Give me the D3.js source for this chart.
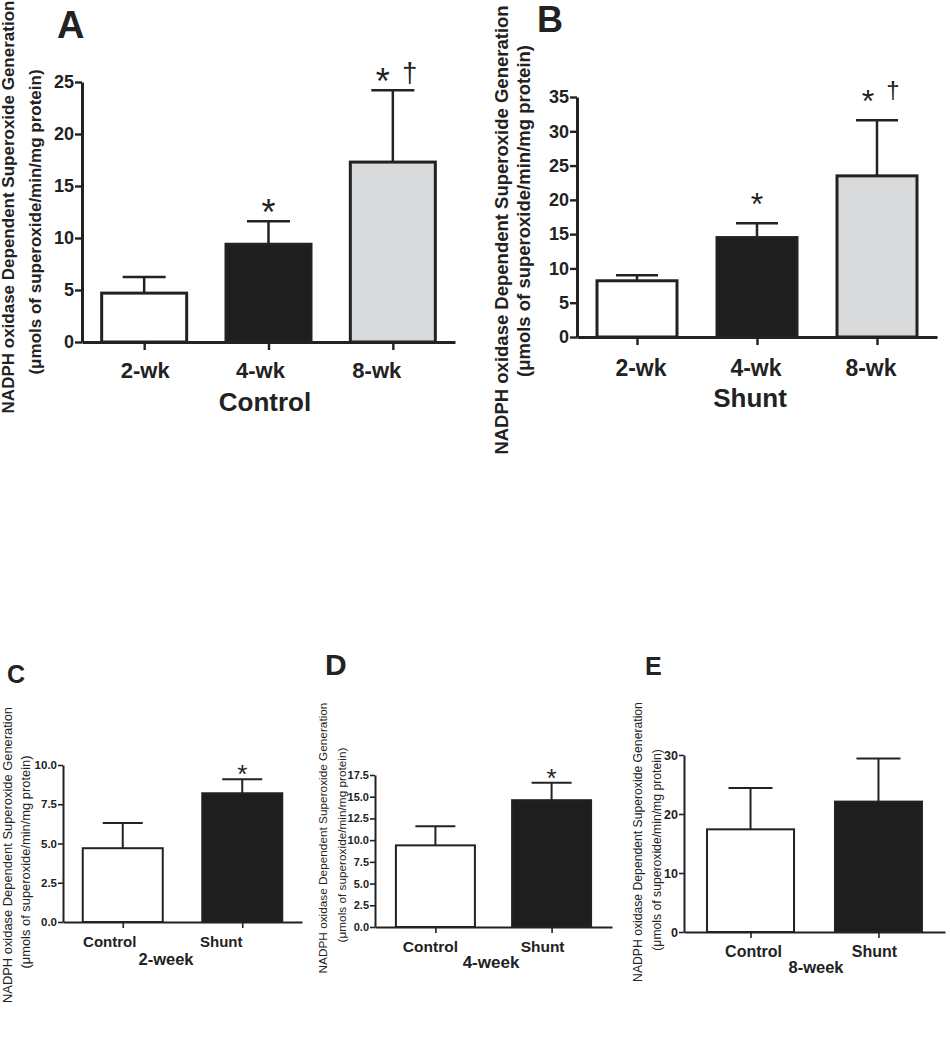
<!DOCTYPE html>
<html><head><meta charset="utf-8">
<script src="https://cdn.jsdelivr.net/npm/d3@7"></script>
<style>
body{margin:0;background:#fff}
svg{display:block}
text{font-family:"Liberation Sans",Arial,Helvetica,sans-serif;fill:#222}
</style>
</head><body>
<svg id="chart" width="950" height="1050"></svg>
<script>
// ---------- data ----------
const yLabelLine1 = "NADPH oxidase Dependent Superoxide Generation";
const yLabelLine2 = "(\u03BCmols of superoxide/min/mg protein)";

const weekCategories = ["2-wk", "4-wk", "8-wk"];
const groupCategories = ["Control", "Shunt"];

const controlMeans  = [4.7, 9.4, 17.3];
const controlErrTop = [6.25, 11.6, 24.2];
const shuntMeans    = [8.2, 14.5, 23.5];
const shuntErrTop   = [9.0, 16.6, 31.6];

const week2Means  = [4.7, 8.2];
const week2ErrTop = [6.3, 9.1];
const week4Means  = [9.4, 14.6];
const week4ErrTop = [11.6, 16.6];
const week8Means  = [17.4, 22.1];
const week8ErrTop = [24.4, 29.4];

const ticksA = [0, 5, 10, 15, 20, 25];
const ticksB = [0, 5, 10, 15, 20, 25, 30, 35];
const ticksC = [0, 2.5, 5, 7.5, 10];
const ticksD = [0, 2.5, 5, 7.5, 10, 12.5, 15, 17.5];
const ticksE = [0, 10, 20, 30];

const starsA = [false, true, true];
const daggerA = [false, false, true];
const starsB = [false, true, true];
const daggerB = [false, false, true];
const starsC = [false, true];
const starsD = [false, true];
const starsE = [false, false];

// ---------- styling / layout ----------
const threeFills = ["#ffffff", "#1e1e1e", "#d9dadc"];
const twoFills = ["#ffffff", "#1e1e1e"];
const ink = "#222";

const svg = d3.select("#chart");

function drawPanel(cfg) {
  const g = svg.append("g");
  const y = d3.scaleLinear().domain([0, cfg.max]).range([cfg.yBot, cfg.yTop]);
  const x = d3.scalePoint().domain(cfg.cats).range([cfg.x0, cfg.x1]).padding(cfg.pad);

  const data = cfg.cats.map((c, i) => ({c, v: cfg.means[i], e: cfg.errTop[i], fill: cfg.fills[i],
    star: cfg.stars[i], dagger: cfg.daggers ? cfg.daggers[i] : false, shift: cfg.catShift[i]}));

  // error bars
  g.selectAll(".err").data(data).enter().append("line")
    .attr("x1", d => x(d.c)).attr("x2", d => x(d.c))
    .attr("y1", d => y(d.v)).attr("y2", d => y(d.e))
    .attr("stroke", ink).attr("stroke-width", cfg.errStroke);
  g.selectAll(".cap").data(data).enter().append("line")
    .attr("x1", d => x(d.c) - cfg.capW / 2).attr("x2", d => x(d.c) + cfg.capW / 2)
    .attr("y1", d => y(d.e)).attr("y2", d => y(d.e))
    .attr("stroke", ink).attr("stroke-width", cfg.errStroke);

  g.selectAll(".bar").data(data).enter().append("rect")
    .attr("x", d => x(d.c) - cfg.barW / 2)
    .attr("width", cfg.barW)
    .attr("y", d => y(d.v))
    .attr("height", d => y(0) - y(d.v))
    .attr("fill", d => d.fill)
    .attr("stroke", ink).attr("stroke-width", cfg.barStroke);

  // y axis
  const ya = g.append("g").attr("transform", `translate(${cfg.x0},0)`)
    .call(d3.axisLeft(y).tickValues(cfg.ticks).tickFormat(cfg.fmt).tickSize(cfg.tickLen).tickSizeOuter(0).tickPadding(1));
  ya.select(".domain").attr("stroke", ink).attr("stroke-width", cfg.axisStroke);
  ya.selectAll(".tick line").attr("stroke", ink).attr("stroke-width", cfg.axisStroke * 0.8);
  ya.selectAll(".tick text").attr("fill", ink).style("font-size", cfg.tickFont + "px")
    .style("font-weight", "bold").style("font-family", '"Liberation Sans",Arial,sans-serif');

  // x axis
  const xa = g.append("g").attr("transform", `translate(0,${cfg.yBot})`)
    .call(d3.axisBottom(x).tickSize(cfg.xTickLen).tickSizeOuter(0).tickFormat(""));
  xa.select(".domain").attr("stroke", ink).attr("stroke-width", cfg.axisStroke);
  xa.selectAll(".tick line").attr("stroke", ink).attr("stroke-width", cfg.axisStroke * 0.8);

  // category labels
  g.selectAll(".cat").data(data).enter().append("text")
    .attr("x", d => x(d.c) + d.shift).attr("y", cfg.catY)
    .attr("text-anchor", "middle").style("font-size", cfg.catFont + "px").style("font-weight", "bold")
    .text(d => d.c);

  // group label
  g.append("text").attr("x", cfg.groupX).attr("y", cfg.groupY)
    .attr("text-anchor", "middle").style("font-size", cfg.groupFont + "px").style("font-weight", "bold")
    .text(cfg.group);

  // significance marks
  g.selectAll(".star").data(data.filter(d => d.star)).enter().append("text")
    .attr("x", d => x(d.c) + (d.dagger ? cfg.starDx : 0))
    .attr("y", d => y(d.e) - cfg.starGap)
    .attr("text-anchor", "middle").style("font-size", cfg.starFont + "px").attr("fill", "#333")
    .text("*");
  g.selectAll(".dag").data(data.filter(d => d.dagger)).enter().append("text")
    .attr("x", d => x(d.c) + cfg.dagDx)
    .attr("y", d => y(d.e) - cfg.dagGap)
    .attr("text-anchor", "middle").style("font-size", cfg.dagFont + "px").attr("fill", "#555")
    .text("\u2020");

  // panel letter
  g.append("text").attr("x", cfg.letterX).attr("y", cfg.letterY)
    .style("font-size", cfg.letterFont + "px").style("font-weight", "bold").attr("fill", "#111")
    .text(cfg.letter);

  // y-axis title (two lines, rotated)
  g.append("text").attr("transform", `translate(${cfg.yl1x},${cfg.yl1cy}) rotate(-90)`)
    .attr("text-anchor", "middle").style("font-size", cfg.ylFont + "px").style("font-weight", cfg.ylWeight)
    .text(yLabelLine1);
  g.append("text").attr("transform", `translate(${cfg.yl2x},${cfg.yl2cy}) rotate(-90)`)
    .attr("text-anchor", "middle").style("font-size", cfg.ylFont + "px").style("font-weight", cfg.ylWeight)
    .text(yLabelLine2);
}

drawPanel({cats: weekCategories, means: controlMeans, errTop: controlErrTop, fills: threeFills,
  stars: starsA, daggers: daggerA, max: 25, ticks: ticksA, fmt: d3.format("d"),
  x0: 82, x1: 455, yTop: 82, yBot: 342, pad: 0.5, barW: 85, capW: 43,
  barStroke: 3, errStroke: 2.5, axisStroke: 3, tickLen: 7, xTickLen: 8, tickFont: 18,
  catFont: 22, catY: 378, catShift: [1, -8, -16], group: "Control", groupFont: 26, groupX: 265, groupY: 411,
  starFont: 36, starGap: -4, starDx: -10, dagFont: 27, dagGap: 8, dagDx: 17,
  letter: "A", letterX: 57, letterY: 38, letterFont: 38,
  ylFont: 17, ylWeight: "bold", yl1x: 14, yl1cy: 207, yl2x: 41, yl2cy: 222});

drawPanel({cats: weekCategories, means: shuntMeans, errTop: shuntErrTop, fills: threeFills,
  stars: starsB, daggers: daggerB, max: 35, ticks: ticksB, fmt: d3.format("d"),
  x0: 577, x1: 937, yTop: 97, yBot: 337, pad: 0.5, barW: 80, capW: 42,
  barStroke: 3, errStroke: 2.5, axisStroke: 3, tickLen: 7, xTickLen: 8, tickFont: 18,
  catFont: 23, catY: 376, catShift: [4, -1, -6], group: "Shunt", groupFont: 26, groupX: 750, groupY: 407,
  starFont: 32, starGap: 8, starDx: -9, dagFont: 24, dagGap: 22, dagDx: 16,
  letter: "B", letterX: 537, letterY: 32, letterFont: 36,
  ylFont: 18.5, ylWeight: "bold", yl1x: 508, yl1cy: 230, yl2x: 530, yl2cy: 211});

drawPanel({cats: groupCategories, means: week2Means, errTop: week2ErrTop, fills: twoFills,
  stars: starsC, max: 10, ticks: ticksC, fmt: d3.format(".1f"),
  x0: 63, x1: 302, yTop: 765, yBot: 922, pad: 0.5, barW: 80, capW: 40,
  barStroke: 2, errStroke: 2, axisStroke: 2, tickLen: 5, xTickLen: 6, tickFont: 11.5,
  catFont: 15, catY: 947, catShift: [-13, -21], group: "2-week", groupFont: 16.5, groupX: 166, groupY: 965,
  starFont: 26, starGap: -4, starDx: 0,
  letter: "C", letterX: 7, letterY: 683, letterFont: 25,
  ylFont: 12.9, ylWeight: "normal", yl1x: 12, yl1cy: 855, yl2x: 30, yl2cy: 862});

drawPanel({cats: groupCategories, means: week4Means, errTop: week4ErrTop, fills: twoFills,
  stars: starsD, max: 17.5, ticks: ticksD, fmt: d3.format(".1f"),
  x0: 375, x1: 612, yTop: 775, yBot: 927, pad: 0.52, barW: 79, capW: 40,
  barStroke: 2, errStroke: 2, axisStroke: 2, tickLen: 5, xTickLen: 6, tickFont: 11,
  catFont: 15.5, catY: 952, catShift: [-5, -9], group: "4-week", groupFont: 17, groupX: 491, groupY: 968,
  starFont: 26, starGap: -4, starDx: 0,
  letter: "D", letterX: 325, letterY: 675, letterFont: 30,
  ylFont: 11.8, ylWeight: "normal", yl1x: 327, yl1cy: 838, yl2x: 346, yl2cy: 845});

drawPanel({cats: groupCategories, means: week8Means, errTop: week8ErrTop, fills: twoFills,
  stars: starsE, max: 30, ticks: ticksE, fmt: d3.format("d"),
  x0: 684, x1: 945, yTop: 755, yBot: 932, pad: 0.52, barW: 87, capW: 44,
  barStroke: 2, errStroke: 2, axisStroke: 2, tickLen: 5, xTickLen: 6, tickFont: 12.5,
  catFont: 16, catY: 957, catShift: [3, -4], group: "8-week", groupFont: 16.5, groupX: 816, groupY: 973,
  starFont: 26, starGap: -4, starDx: 0,
  letter: "E", letterX: 645, letterY: 675, letterFont: 25,
  ylFont: 12.2, ylWeight: "normal", yl1x: 642, yl1cy: 842, yl2x: 661, yl2cy: 850});
</script>
</body></html>
